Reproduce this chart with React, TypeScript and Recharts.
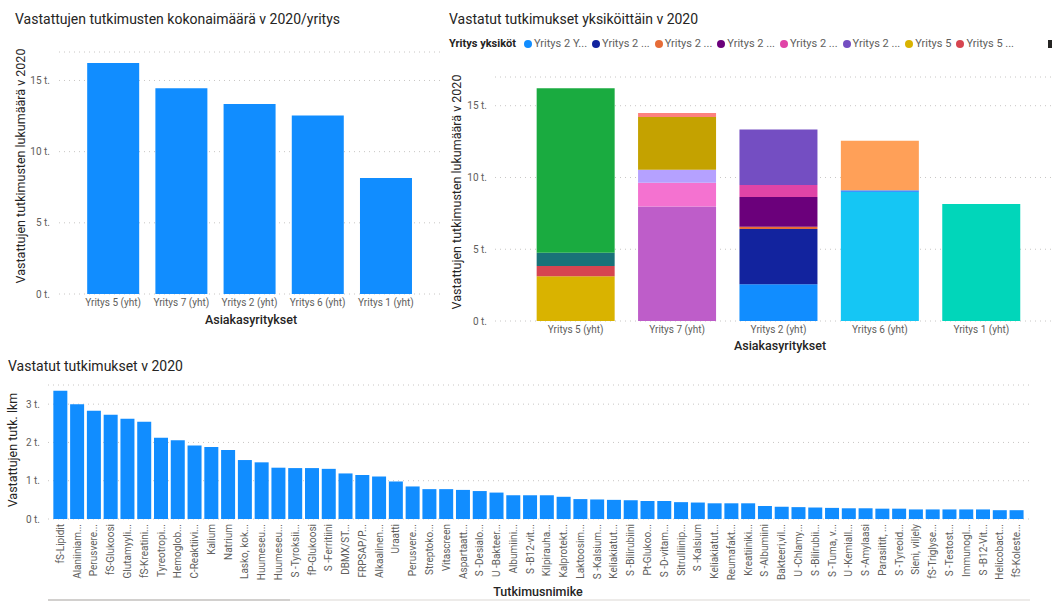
import React from "react";
import { BarChart, Bar, XAxis, YAxis, CartesianGrid } from "recharts";

// ---------- Data ----------
const companies = ["Yritys 5 (yht)", "Yritys 7 (yht)", "Yritys 2 (yht)", "Yritys 6 (yht)", "Yritys 1 (yht)"];
const companyTotals = [16220, 14460, 13340, 12540, 8140];

// units (stack segments), listed bottom-to-top within each company
const unitKeys = [
  "y2a", "y2b", "y2c", "y2d", "y2e", "y2f",
  "y5a", "y5b", "y5c", "y5d",
  "y6a", "y6b", "y6c",
  "y7a", "y7b", "y7c", "y7d", "y7e",
  "y1a",
];
const unitCompany = [
  "Yritys 2 (yht)", "Yritys 2 (yht)", "Yritys 2 (yht)", "Yritys 2 (yht)", "Yritys 2 (yht)", "Yritys 2 (yht)",
  "Yritys 5 (yht)", "Yritys 5 (yht)", "Yritys 5 (yht)", "Yritys 5 (yht)",
  "Yritys 6 (yht)", "Yritys 6 (yht)", "Yritys 6 (yht)",
  "Yritys 7 (yht)", "Yritys 7 (yht)", "Yritys 7 (yht)", "Yritys 7 (yht)", "Yritys 7 (yht)",
  "Yritys 1 (yht)",
];
const unitValues = [
  2560, 3850, 160, 2070, 840, 3870,
  3120, 720, 910, 11460,
  8990, 120, 3450,
  7970, 1670, 890, 3680, 280,
  8150,
];
const unitColors = [
  "#118DFF", "#12239E", "#E66C37", "#6B007B", "#E044A7", "#744EC2",
  "#D9B300", "#D64550", "#197278", "#1AAB40",
  "#15C6F4", "#4092FF", "#FFA058",
  "#BE5DC9", "#F472D0", "#B5A1FF", "#C4A200", "#FD817E",
  "#01D6BA",
];
const legendTitle = "Yritys yksiköt";
const legendLabels = ["Yritys 2 Y...", "Yritys 2 ...", "Yritys 2 ...", "Yritys 2 ...", "Yritys 2 ...", "Yritys 2 ...", "Yritys 5", "Yritys 5 ..."];

const testNames = [
  "fS-Lipidit", "Alaniiniam...", "Perusvere...", "fS-Glukoosi", "Glutamyyli...", "fS-Kreatini...",
  "Tyreotropi...", "Hemoglob...", "C-Reaktiivi...", "Kalium", "Natrium", "Lasko, kok...",
  "Huumeseu...", "Huumeseu...", "S -Tyroksii...", "fP-Glukoosi", "S -Ferritiini", "DBMX/ST...",
  "FRPSAP/P...", "Alkaalinen...", "Uraatti", "Perusvere...", "Streptoko...", "Vitascreen",
  "Aspartaatt...", "S -Desialo...", "U -Bakteer...", "Albumiini...", "S -B12-vit...", "Kilpirauha...",
  "Kalprotekt...", "Laktoosim...", "S -Kalsium...", "Keliakiatut...", "S -Bilirubiini", "Pt-Glukoo...",
  "S -D-vitam...", "Sitrulliinip...", "S -Kalsium", "Keliakiatut...", "Reumafakt...", "Kreatiiniki...",
  "S -Albumiini", "Bakteeri,vil...", "U -Chlamy...", "S -Bilirubii...", "S -Tuma, v...", "U -Kemiall...",
  "S -Amylaasi", "Parasiitit, ...", "S -Tyreoid...", "Sieni, viljely", "fS-Triglyse...", "S -Testost...",
  "Immunogl...", "S -B12-Vit...", "Helicobact...", "fS-Koleste...",
];
const testCounts = [
  3350, 3000, 2830, 2720, 2620, 2540,
  2120, 2060, 1920, 1880, 1800, 1540,
  1480, 1340, 1330, 1330, 1310, 1190,
  1150, 1110, 980, 850, 780, 780,
  760, 730, 690, 620, 620, 620,
  580, 520, 510, 500, 490, 470,
  470, 440, 430, 410, 410, 410,
  340, 320, 310, 300, 290, 280,
  280, 270, 270, 250, 250, 250,
  250, 250, 230, 230,
];

const topTicks = [0, 5000, 10000, 15000];
const bottomTicks = [0, 1000, 2000, 3000];

// ---------- Derived tables ----------
const totalsData = companies.map((name, i) => ({ name, total: companyTotals[i] }));
const stackedData = companies.map((name) => {
  const row: Record<string, any> = { name };
  unitKeys.forEach((k, i) => {
    if (unitCompany[i] === name) row[k] = unitValues[i];
  });
  return row;
});
const testData = testNames.map((name, i) => ({ name, idx: i, count: testCounts[i] }));

// ---------- Styles ----------
const TITLE_FONT = "Roboto, 'Noto Sans', sans-serif";
const FONT = "Roboto, 'Noto Sans', sans-serif";
const TICK = { fill: "#605E5C", fontSize: 10, fontFamily: FONT };
const GRID = "#C8C6C4";
const fmt = (v: number) => `${v / 1000} t.`;

const titleStyle = (left: number, top: number): React.CSSProperties => ({
  position: "absolute", left, top, fontFamily: TITLE_FONT, fontSize: 14, color: "#252423",
  whiteSpace: "nowrap", lineHeight: "18px",
});
const axisTitle = (cx: number, cy: number, rotate: boolean): React.CSSProperties => ({
  position: "absolute", left: cx, top: cy, transform: `translate(-50%,-50%)${rotate ? " rotate(-90deg)" : ""}`,
  fontFamily: TITLE_FONT, fontSize: 12.5, color: "#252423", whiteSpace: "nowrap", lineHeight: "16px",
  fontWeight: rotate ? 400 : 500,
});

const RotTick = (props: any) => {
  const { x, y, payload } = props;
  return (
    <g transform={`translate(${x},${y})`}>
      <text transform="rotate(-90)" textAnchor="end" dy="0.35em" fill="#605E5C" fontSize={10} fontFamily={FONT}>
        {testNames[payload.value]}
      </text>
    </g>
  );
};

export default function App() {
  return (
    <div style={{ position: "fixed", left: 0, top: 0, width: 1052, height: 601, background: "#fff", overflow: "hidden" }}>
      {/* Chart A */}
      <div style={titleStyle(15, 10)}>Vastattujen tutkimusten kokonaimäärä v 2020/yritys</div>
      <div style={{ position: "absolute", left: 0, top: 0 }}>
        <BarChart width={440} height={320} data={totalsData} margin={{ top: 52, right: 0, bottom: 0, left: 0 }} barCategoryGap="12%">
          <CartesianGrid vertical={false} stroke={GRID} strokeDasharray="1 4" />
          <XAxis dataKey="name" interval={0} axisLine={false} tickLine={false} tickSize={0} tickMargin={5} height={26}
            padding={{ left: 20, right: 20 }} tick={TICK} />
          <YAxis width={59} domain={[0, 17000]} ticks={topTicks} tickFormatter={fmt} axisLine={false} tickLine={false}
            tickSize={0} tickMargin={9} tick={TICK} />
          <Bar dataKey="total" fill="#118DFF" isAnimationActive={false} />
        </BarChart>
      </div>
      <div style={axisTitle(21, 166, true)}>Vastattujen tutkimusten lukumäärä v 2020</div>
      <div style={axisTitle(251, 320, false)}>Asiakasyritykset</div>

      {/* Chart B */}
      <div style={titleStyle(449, 10)}>Vastatut tutkimukset yksiköittäin v 2020</div>
      <div style={{ position: "absolute", left: 449, top: 37, display: "flex", alignItems: "center", fontFamily: FONT, fontSize: 11, whiteSpace: "nowrap", lineHeight: "14px" }}>
        <span style={{ fontWeight: 700, color: "#252423", marginRight: 8 }}>{legendTitle}</span>
        {legendLabels.map((l, i) => (
          <span key={i} style={{ display: "flex", alignItems: "center", marginRight: 5, color: "#605E5C" }}>
            <span style={{ width: 8, height: 8, borderRadius: 4, background: unitColors[i], marginRight: 2, display: "inline-block" }} />
            {l}
          </span>
        ))}
      </div>
      <div style={{ position: "absolute", left: 1048, top: 40, width: 4, height: 8, background: "#252423" }} />
      <div style={{ position: "absolute", left: 440, top: 0 }}>
        <BarChart width={612} height={347} data={stackedData} margin={{ top: 77, right: 0, bottom: 0, left: 0 }} barCategoryGap="11.5%">
          <CartesianGrid vertical={false} stroke={GRID} strokeDasharray="1 4" />
          <XAxis dataKey="name" interval={0} axisLine={false} tickLine={false} tickSize={0} tickMargin={5} height={26}
            padding={{ left: 30, right: 20 }} tick={TICK} />
          <YAxis width={55} domain={[0, 17000]} ticks={topTicks} tickFormatter={fmt} axisLine={false} tickLine={false}
            tickSize={0} tickMargin={8} tick={TICK} />
          {unitKeys.map((k, i) => (
            <Bar key={k} dataKey={k} name={k} stackId="s" fill={unitColors[i]} isAnimationActive={false} />
          ))}
        </BarChart>
      </div>
      <div style={axisTitle(457, 192, true)}>Vastattujen tutkimusten lukumäärä v 2020</div>
      <div style={axisTitle(780, 346, false)}>Asiakasyritykset</div>

      {/* Chart C */}
      <div style={titleStyle(8, 357)}>Vastatut tutkimukset v 2020</div>
      <div style={{ position: "absolute", left: 0, top: 360 }}>
        <BarChart width={1052} height={241} data={testData} margin={{ top: 25, right: 22, bottom: 0, left: 0 }} barCategoryGap="8%">
          <CartesianGrid vertical={false} stroke={GRID} strokeDasharray="1 4" />
          <XAxis dataKey="idx" interval={0} axisLine={false} tickLine={false} tickSize={0} tickMargin={5} height={82}
            padding={{ left: 4, right: 5 }} tick={<RotTick />} />
          <YAxis width={48} domain={[0, 3500]} ticks={bottomTicks} tickFormatter={fmt} axisLine={false} tickLine={false}
            tickSize={0} tickMargin={8} tick={TICK} />
          <Bar dataKey="count" fill="#118DFF" isAnimationActive={false} />
        </BarChart>
      </div>
      <div style={axisTitle(13, 450, true)}>Vastattujen tutk. lkm</div>
      <div style={axisTitle(538, 592, false)}>Tutkimusnimike</div>
      <div style={{ position: "absolute", left: 48, top: 599, width: 982, height: 2, background: "#EDEBE9" }} />
      <div style={{ position: "absolute", left: 48, top: 599, width: 242, height: 2, background: "#D2D0CE" }} />
    </div>
  );
}
